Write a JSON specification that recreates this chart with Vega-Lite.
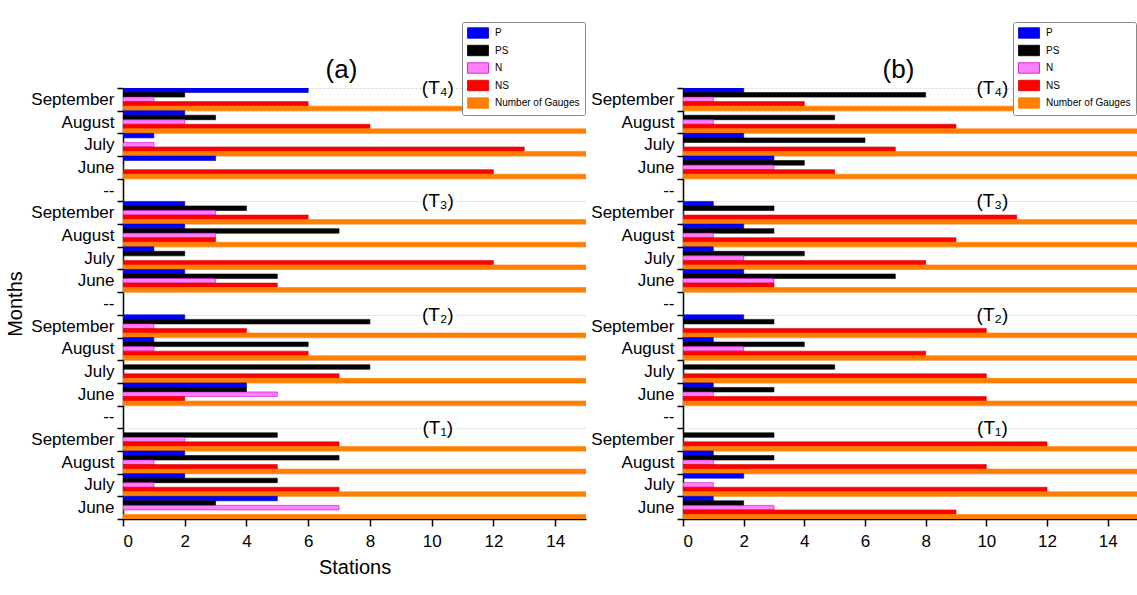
{
  "$schema": "https://vega.github.io/schema/vega-lite/v6.json",
  "padding": {"left": 5, "top": 21, "right": 0, "bottom": 5},
  "background": "white",
  "datasets": {
    "bars": [
      {"panel":"a","row":"T4|September","series":"P","value":6},{"panel":"a","row":"T4|September","series":"PS","value":2},{"panel":"a","row":"T4|September","series":"N","value":1},{"panel":"a","row":"T4|September","series":"NS","value":6},{"panel":"a","row":"T4|September","series":"Number of Gauges","value":15},
      {"panel":"a","row":"T4|August","series":"P","value":2},{"panel":"a","row":"T4|August","series":"PS","value":3},{"panel":"a","row":"T4|August","series":"N","value":2},{"panel":"a","row":"T4|August","series":"NS","value":8},{"panel":"a","row":"T4|August","series":"Number of Gauges","value":15},
      {"panel":"a","row":"T4|July","series":"P","value":1},{"panel":"a","row":"T4|July","series":"PS","value":0},{"panel":"a","row":"T4|July","series":"N","value":1},{"panel":"a","row":"T4|July","series":"NS","value":13},{"panel":"a","row":"T4|July","series":"Number of Gauges","value":15},
      {"panel":"a","row":"T4|June","series":"P","value":3},{"panel":"a","row":"T4|June","series":"PS","value":0},{"panel":"a","row":"T4|June","series":"N","value":0},{"panel":"a","row":"T4|June","series":"NS","value":12},{"panel":"a","row":"T4|June","series":"Number of Gauges","value":15},
      {"panel":"a","row":"T3|September","series":"P","value":2},{"panel":"a","row":"T3|September","series":"PS","value":4},{"panel":"a","row":"T3|September","series":"N","value":3},{"panel":"a","row":"T3|September","series":"NS","value":6},{"panel":"a","row":"T3|September","series":"Number of Gauges","value":15},
      {"panel":"a","row":"T3|August","series":"P","value":2},{"panel":"a","row":"T3|August","series":"PS","value":7},{"panel":"a","row":"T3|August","series":"N","value":3},{"panel":"a","row":"T3|August","series":"NS","value":3},{"panel":"a","row":"T3|August","series":"Number of Gauges","value":15},
      {"panel":"a","row":"T3|July","series":"P","value":1},{"panel":"a","row":"T3|July","series":"PS","value":2},{"panel":"a","row":"T3|July","series":"N","value":0},{"panel":"a","row":"T3|July","series":"NS","value":12},{"panel":"a","row":"T3|July","series":"Number of Gauges","value":15},
      {"panel":"a","row":"T3|June","series":"P","value":2},{"panel":"a","row":"T3|June","series":"PS","value":5},{"panel":"a","row":"T3|June","series":"N","value":3},{"panel":"a","row":"T3|June","series":"NS","value":5},{"panel":"a","row":"T3|June","series":"Number of Gauges","value":15},
      {"panel":"a","row":"T2|September","series":"P","value":2},{"panel":"a","row":"T2|September","series":"PS","value":8},{"panel":"a","row":"T2|September","series":"N","value":1},{"panel":"a","row":"T2|September","series":"NS","value":4},{"panel":"a","row":"T2|September","series":"Number of Gauges","value":15},
      {"panel":"a","row":"T2|August","series":"P","value":1},{"panel":"a","row":"T2|August","series":"PS","value":6},{"panel":"a","row":"T2|August","series":"N","value":1},{"panel":"a","row":"T2|August","series":"NS","value":6},{"panel":"a","row":"T2|August","series":"Number of Gauges","value":15},
      {"panel":"a","row":"T2|July","series":"P","value":0},{"panel":"a","row":"T2|July","series":"PS","value":8},{"panel":"a","row":"T2|July","series":"N","value":0},{"panel":"a","row":"T2|July","series":"NS","value":7},{"panel":"a","row":"T2|July","series":"Number of Gauges","value":15},
      {"panel":"a","row":"T2|June","series":"P","value":4},{"panel":"a","row":"T2|June","series":"PS","value":4},{"panel":"a","row":"T2|June","series":"N","value":5},{"panel":"a","row":"T2|June","series":"NS","value":2},{"panel":"a","row":"T2|June","series":"Number of Gauges","value":15},
      {"panel":"a","row":"T1|September","series":"P","value":0},{"panel":"a","row":"T1|September","series":"PS","value":5},{"panel":"a","row":"T1|September","series":"N","value":2},{"panel":"a","row":"T1|September","series":"NS","value":7},{"panel":"a","row":"T1|September","series":"Number of Gauges","value":15},
      {"panel":"a","row":"T1|August","series":"P","value":2},{"panel":"a","row":"T1|August","series":"PS","value":7},{"panel":"a","row":"T1|August","series":"N","value":1},{"panel":"a","row":"T1|August","series":"NS","value":5},{"panel":"a","row":"T1|August","series":"Number of Gauges","value":15},
      {"panel":"a","row":"T1|July","series":"P","value":2},{"panel":"a","row":"T1|July","series":"PS","value":5},{"panel":"a","row":"T1|July","series":"N","value":1},{"panel":"a","row":"T1|July","series":"NS","value":7},{"panel":"a","row":"T1|July","series":"Number of Gauges","value":15},
      {"panel":"a","row":"T1|June","series":"P","value":5},{"panel":"a","row":"T1|June","series":"PS","value":3},{"panel":"a","row":"T1|June","series":"N","value":7},{"panel":"a","row":"T1|June","series":"NS","value":0},{"panel":"a","row":"T1|June","series":"Number of Gauges","value":15},
      {"panel":"b","row":"T4|September","series":"P","value":2},{"panel":"b","row":"T4|September","series":"PS","value":8},{"panel":"b","row":"T4|September","series":"N","value":1},{"panel":"b","row":"T4|September","series":"NS","value":4},{"panel":"b","row":"T4|September","series":"Number of Gauges","value":15},
      {"panel":"b","row":"T4|August","series":"P","value":0},{"panel":"b","row":"T4|August","series":"PS","value":5},{"panel":"b","row":"T4|August","series":"N","value":1},{"panel":"b","row":"T4|August","series":"NS","value":9},{"panel":"b","row":"T4|August","series":"Number of Gauges","value":15},
      {"panel":"b","row":"T4|July","series":"P","value":2},{"panel":"b","row":"T4|July","series":"PS","value":6},{"panel":"b","row":"T4|July","series":"N","value":0},{"panel":"b","row":"T4|July","series":"NS","value":7},{"panel":"b","row":"T4|July","series":"Number of Gauges","value":15},
      {"panel":"b","row":"T4|June","series":"P","value":3},{"panel":"b","row":"T4|June","series":"PS","value":4},{"panel":"b","row":"T4|June","series":"N","value":3},{"panel":"b","row":"T4|June","series":"NS","value":5},{"panel":"b","row":"T4|June","series":"Number of Gauges","value":15},
      {"panel":"b","row":"T3|September","series":"P","value":1},{"panel":"b","row":"T3|September","series":"PS","value":3},{"panel":"b","row":"T3|September","series":"N","value":0},{"panel":"b","row":"T3|September","series":"NS","value":11},{"panel":"b","row":"T3|September","series":"Number of Gauges","value":15},
      {"panel":"b","row":"T3|August","series":"P","value":2},{"panel":"b","row":"T3|August","series":"PS","value":3},{"panel":"b","row":"T3|August","series":"N","value":1},{"panel":"b","row":"T3|August","series":"NS","value":9},{"panel":"b","row":"T3|August","series":"Number of Gauges","value":15},
      {"panel":"b","row":"T3|July","series":"P","value":1},{"panel":"b","row":"T3|July","series":"PS","value":4},{"panel":"b","row":"T3|July","series":"N","value":2},{"panel":"b","row":"T3|July","series":"NS","value":8},{"panel":"b","row":"T3|July","series":"Number of Gauges","value":15},
      {"panel":"b","row":"T3|June","series":"P","value":2},{"panel":"b","row":"T3|June","series":"PS","value":7},{"panel":"b","row":"T3|June","series":"N","value":3},{"panel":"b","row":"T3|June","series":"NS","value":3},{"panel":"b","row":"T3|June","series":"Number of Gauges","value":15},
      {"panel":"b","row":"T2|September","series":"P","value":2},{"panel":"b","row":"T2|September","series":"PS","value":3},{"panel":"b","row":"T2|September","series":"N","value":0},{"panel":"b","row":"T2|September","series":"NS","value":10},{"panel":"b","row":"T2|September","series":"Number of Gauges","value":15},
      {"panel":"b","row":"T2|August","series":"P","value":1},{"panel":"b","row":"T2|August","series":"PS","value":4},{"panel":"b","row":"T2|August","series":"N","value":2},{"panel":"b","row":"T2|August","series":"NS","value":8},{"panel":"b","row":"T2|August","series":"Number of Gauges","value":15},
      {"panel":"b","row":"T2|July","series":"P","value":0},{"panel":"b","row":"T2|July","series":"PS","value":5},{"panel":"b","row":"T2|July","series":"N","value":0},{"panel":"b","row":"T2|July","series":"NS","value":10},{"panel":"b","row":"T2|July","series":"Number of Gauges","value":15},
      {"panel":"b","row":"T2|June","series":"P","value":1},{"panel":"b","row":"T2|June","series":"PS","value":3},{"panel":"b","row":"T2|June","series":"N","value":1},{"panel":"b","row":"T2|June","series":"NS","value":10},{"panel":"b","row":"T2|June","series":"Number of Gauges","value":15},
      {"panel":"b","row":"T1|September","series":"P","value":0},{"panel":"b","row":"T1|September","series":"PS","value":3},{"panel":"b","row":"T1|September","series":"N","value":0},{"panel":"b","row":"T1|September","series":"NS","value":12},{"panel":"b","row":"T1|September","series":"Number of Gauges","value":15},
      {"panel":"b","row":"T1|August","series":"P","value":1},{"panel":"b","row":"T1|August","series":"PS","value":3},{"panel":"b","row":"T1|August","series":"N","value":1},{"panel":"b","row":"T1|August","series":"NS","value":10},{"panel":"b","row":"T1|August","series":"Number of Gauges","value":15},
      {"panel":"b","row":"T1|July","series":"P","value":2},{"panel":"b","row":"T1|July","series":"PS","value":0},{"panel":"b","row":"T1|July","series":"N","value":1},{"panel":"b","row":"T1|July","series":"NS","value":12},{"panel":"b","row":"T1|July","series":"Number of Gauges","value":15},
      {"panel":"b","row":"T1|June","series":"P","value":1},{"panel":"b","row":"T1|June","series":"PS","value":2},{"panel":"b","row":"T1|June","series":"N","value":3},{"panel":"b","row":"T1|June","series":"NS","value":9},{"panel":"b","row":"T1|June","series":"Number of Gauges","value":15}
    ],
    "labels": [
      {"row":"T4|September","label":"(T₄)"},
      {"row":"T3|September","label":"(T₃)"},
      {"row":"T2|September","label":"(T₂)"},
      {"row":"T1|September","label":"(T₁)"}
    ]
  },
  "spacing": 4,
  "hconcat": [
    {
      "width": 463,
      "height": 431,
      "title": {"text": "(a)", "fontSize": 26, "fontWeight": "normal", "dx": -13, "dy": 59, "offset": -2, "frame": "group"},
      "layer": [
        {
          "data": {"name": "bars"},
          "transform": [{"filter": "datum.panel === 'a'"}],
          "mark": {"type": "bar", "strokeWidth": 0.6, "clip": true},
          "encoding": {
            "y": {"field": "row", "type": "nominal",
              "scale": {"domain": ["T4|September","T4|August","T4|July","T4|June","T3|--","T3|September","T3|August","T3|July","T3|June","T2|--","T2|September","T2|August","T2|July","T2|June","T1|--","T1|September","T1|August","T1|July","T1|June"], "paddingInner": 0, "paddingOuter": 0},
              "axis": {"title": "Months", "labelExpr": "split(datum.label, '|')[1]", "tickBand": "extent", "grid": true},
              "sort": null},
            "yOffset": {"field": "series", "type": "nominal", "scale": {"domain": ["P","PS","N","NS","Number of Gauges"], "paddingInner": 0, "paddingOuter": 0}},
            "x": {"field": "value", "type": "quantitative", "scale": {"domain": [0, 15], "nice": false},
              "axis": {"title": "Stations", "values": [0,1,2,3,4,5,6,7,8,9,10,11,12,13,14,15], "labelExpr": "datum.value % 2 === 0 && datum.value < 15 ? datum.label : ''", "tickSize": {"condition": {"test": "datum.value % 2 === 1", "value": 4}, "value": 7}}},
            "color": {"field": "series", "type": "nominal",
              "scale": {"domain": ["P","PS","N","NS","Number of Gauges"], "range": ["#0000FF","#000000","#FF80FF","#FF0000","#FF8000"]},
              "legend": {"orient": "none", "legendX": 339, "legendY": -66, "title": null}},
            "stroke": {"field": "series", "type": "nominal",
              "scale": {"domain": ["P","PS","N","NS","Number of Gauges"], "range": ["#0000AA","#000000","#D000C0","#E00000","#FF8000"]},
              "legend": {"orient": "none", "legendX": 339, "legendY": -66, "title": null}}
          }
        },
        {
          "data": {"name": "labels"},
          "mark": {"type": "text", "fontSize": 19, "align": "center", "baseline": "middle", "font": "Liberation Sans"},
          "encoding": {
            "y": {"field": "row", "type": "nominal", "bandPosition": 0},
            "x": {"datum": 10.2, "type": "quantitative"},
            "text": {"field": "label"}
          }
        }
      ]
    },
    {
      "width": 455,
      "height": 431,
      "title": {"text": "(b)", "fontSize": 26, "fontWeight": "normal", "dx": -12, "dy": 59, "offset": -2, "frame": "group"},
      "layer": [
        {
          "data": {"name": "bars"},
          "transform": [{"filter": "datum.panel === 'b'"}],
          "mark": {"type": "bar", "strokeWidth": 0.6, "clip": true},
          "encoding": {
            "y": {"field": "row", "type": "nominal",
              "scale": {"domain": ["T4|September","T4|August","T4|July","T4|June","T3|--","T3|September","T3|August","T3|July","T3|June","T2|--","T2|September","T2|August","T2|July","T2|June","T1|--","T1|September","T1|August","T1|July","T1|June"], "paddingInner": 0, "paddingOuter": 0},
              "axis": {"title": null, "labelExpr": "split(datum.label, '|')[1]", "tickBand": "extent", "grid": true},
              "sort": null},
            "yOffset": {"field": "series", "type": "nominal", "scale": {"domain": ["P","PS","N","NS","Number of Gauges"], "paddingInner": 0, "paddingOuter": 0}},
            "x": {"field": "value", "type": "quantitative", "scale": {"domain": [0, 15], "nice": false},
              "axis": {"title": null, "values": [0,1,2,3,4,5,6,7,8,9,10,11,12,13,14,15], "labelExpr": "datum.value % 2 === 0 && datum.value < 15 ? datum.label : ''", "tickSize": {"condition": {"test": "datum.value % 2 === 1", "value": 4}, "value": 7}}},
            "color": {"field": "series", "type": "nominal",
              "scale": {"domain": ["P","PS","N","NS","Number of Gauges"], "range": ["#0000FF","#000000","#FF80FF","#FF0000","#FF8000"]},
              "legend": {"orient": "none", "legendX": 330, "legendY": -66, "title": null}},
            "stroke": {"field": "series", "type": "nominal",
              "scale": {"domain": ["P","PS","N","NS","Number of Gauges"], "range": ["#0000AA","#000000","#D000C0","#E00000","#FF8000"]},
              "legend": {"orient": "none", "legendX": 330, "legendY": -66, "title": null}}
          }
        },
        {
          "data": {"name": "labels"},
          "mark": {"type": "text", "fontSize": 19, "align": "center", "baseline": "middle", "font": "Liberation Sans"},
          "encoding": {
            "y": {"field": "row", "type": "nominal", "bandPosition": 0},
            "x": {"datum": 10.2, "type": "quantitative"},
            "text": {"field": "label"}
          }
        }
      ]
    }
  ],
  "resolve": {"scale": {"color": "independent", "stroke": "independent", "x": "independent", "y": "independent"}, "legend": {"color": "independent", "stroke": "independent"}},
  "config": {
    "font": "Liberation Sans",
    "view": {"stroke": null},
    "title": {"font": "Liberation Sans", "color": "#000"},
    "axis": {
      "labelFont": "Liberation Sans",
      "labelFontSize": 17,
      "labelColor": "#000",
      "titleFont": "Liberation Sans",
      "titleFontSize": 20,
      "titleFontWeight": "normal",
      "titleColor": "#000",
      "domainColor": "#000",
      "domainWidth": 1.5,
      "tickColor": "#000",
      "tickWidth": 1.5,
      "tickSize": 6,
      "labelPadding": 3,
      "grid": false,
      "gridColor": "#c8c8c8",
      "gridDash": [2, 2],
      "gridWidth": 0.8
    },
    "axisX": {"titlePadding": 8, "labelPadding": 7},
    "axisY": {"titlePadding": 5},
    "legend": {
      "symbolType": "M-2,-1H2V1H-2Z",
      "symbolSize": 110,
      "symbolStrokeWidth": 0.8,
      "symbolOffset": 5,
      "labelFont": "Liberation Sans",
      "labelFontSize": 10,
      "labelColor": "#000",
      "rowPadding": 3.5,
      "padding": 5,
      "strokeColor": "#888",
      "fillColor": "#fff",
      "cornerRadius": 2,
      "labelLimit": 200,
      "labelOffset": 11
    }
  }
}
